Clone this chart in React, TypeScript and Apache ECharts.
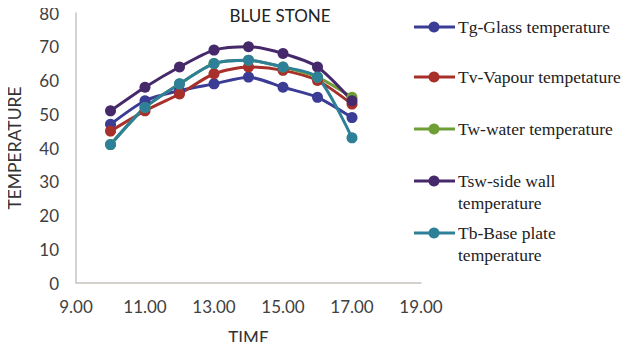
import React, { useEffect, useRef } from "react";
import * as echarts from "echarts";

const times = [10, 11, 12, 13, 14, 15, 16, 17];
const tgGlass = [47, 54, 57, 59, 61, 58, 55, 49];
const tvVapour = [45, 51, 56, 62, 64, 63, 60, 53];
const twWater = [41, 52, 59, 65, 66, 64, 61, 55];
const tswSideWall = [51, 58, 64, 69, 70, 68, 64, 54];
const tbBase = [41, 52, 59, 65, 66, 64, 61, 43];

const seriesNames = [
  "Tg-Glass temperature",
  "Tv-Vapour tempetature",
  "Tw-water temperature",
  "Tsw-side wall temperature",
  "Tb-Base plate temperature",
];
const legendLines = [
  ["Tg-Glass temperature"],
  ["Tv-Vapour tempetature"],
  ["Tw-water temperature"],
  ["Tsw-side wall", "temperature"],
  ["Tb-Base plate", "temperature"],
];
const colors = ["#3B3C95", "#A8302B", "#6E9E35", "#46296B", "#2E8099"];
const seriesData = [tgGlass, tvVapour, twWater, tswSideWall, tbBase];

export default function App() {
  const ref = useRef<HTMLDivElement>(null);
  useEffect(() => {
    const chart = echarts.init(ref.current!, null, { renderer: "svg" });
    const legendY = [27, 77, 129, 181, 233];
    const graphic: any[] = [];
    legendLines.forEach((lines, i) => {
      const y = legendY[i];
      graphic.push({
        type: "line",
        shape: { x1: 414, y1: y, x2: 455, y2: y },
        style: { stroke: colors[i], lineWidth: 3 },
      });
      graphic.push({
        type: "circle",
        shape: { cx: 434, cy: y, r: 5.5 },
        style: { fill: colors[i] },
      });
      lines.forEach((ln, k) => {
        graphic.push({
          type: "text",
          x: 458,
          y: y + k * 22,
          style: {
            text: ln,
            fill: "#222",
            fontFamily: "Liberation Serif",
            fontSize: 17.5,
            verticalAlign: "middle",
          },
        });
      });
    });
    graphic.push({
      type: "text",
      x: 280,
      y: 15,
      style: {
        text: "BLUE STONE",
        fill: "#222",
        fontFamily: "Lato",
        fontSize: 17,
        textAlign: "center",
        verticalAlign: "middle",
      },
    });
    chart.setOption({
      animation: false,
      backgroundColor: "#fff",
      grid: {
        left: 76,
        right: 221,
        top: 13,
        bottom: 67,
        containLabel: false,
        outerBoundsMode: "none",
      },
      graphic,
      xAxis: {
        type: "value",
        min: 9,
        max: 19,
        interval: 2,
        name: "TIME",
        nameLocation: "middle",
        nameGap: 46,
        nameTextStyle: { fontFamily: "Lato", fontSize: 17, color: "#333" },
        axisLine: { lineStyle: { color: "#c8c4bf", width: 1.5 } },
        axisTick: { show: false },
        splitLine: { show: false },
        axisLabel: {
          formatter: (v: number) => v.toFixed(2),
          fontFamily: "Lato",
          fontSize: 17,
          color: "#404040",
          margin: 15,
        },
      },
      yAxis: {
        type: "value",
        min: 0,
        max: 80,
        interval: 10,
        name: "TEMPERATURE",
        nameLocation: "middle",
        nameGap: 53,
        nameTextStyle: { fontFamily: "Lato", fontSize: 17.5, color: "#333" },
        axisLine: { show: true, lineStyle: { color: "#c8c4bf", width: 1.5 } },
        axisTick: { show: false },
        splitLine: { show: false },
        axisLabel: {
          fontFamily: "Lato",
          fontSize: 17,
          color: "#404040",
          margin: 17,
        },
      },
      series: seriesNames.map((name, i) => ({
        name,
        type: "line",
        data: times.map((t, j) => [t, seriesData[i][j]]),
        smooth: 0.25,
        symbol: "circle",
        symbolSize: 11,
        color: colors[i],
        lineStyle: { width: 3, color: colors[i] },
        itemStyle: { color: colors[i] },
      })),
    });
    return () => chart.dispose();
  }, []);
  return <div ref={ref} style={{ width: 642, height: 350, margin: -8 }} />;
}
